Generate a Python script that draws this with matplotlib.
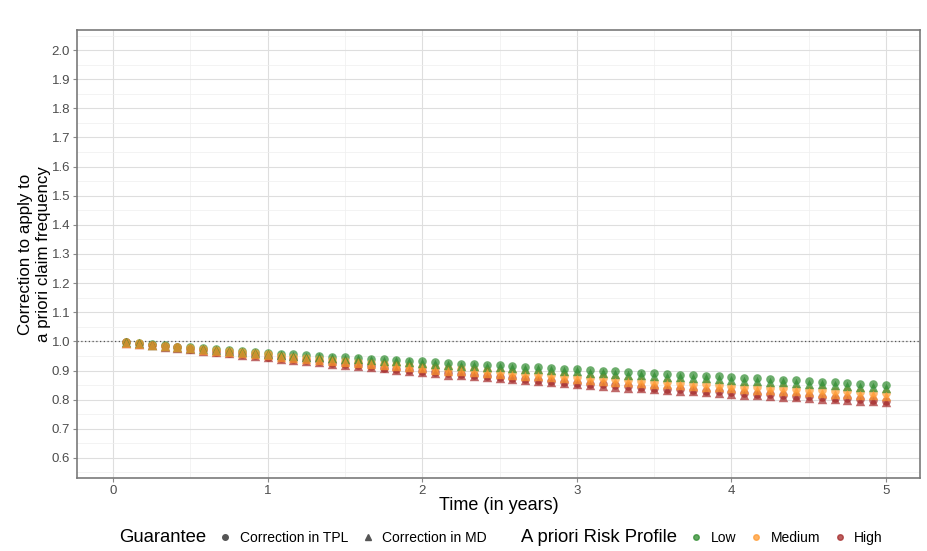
import numpy as np
import matplotlib
matplotlib.use("Agg")
import matplotlib.pyplot as plt
from matplotlib.lines import Line2D

plt.rcParams['font.family'] = ['Liberation Sans', 'DejaVu Sans']

# Monthly time grid (months 1..60 expressed in years)
months = np.arange(1, 61)
time_years = months / 12.0

# Correction factors, third-party liability (TPL)
tpl_low = [0.998, 0.994, 0.990, 0.986, 0.982, 0.979, 0.976, 0.973, 0.970, 0.967, 0.964, 0.961,
           0.958, 0.956, 0.953, 0.951, 0.948, 0.946, 0.943, 0.941, 0.938, 0.936, 0.934, 0.931,
           0.929, 0.927, 0.924, 0.922, 0.920, 0.918, 0.915, 0.913, 0.911, 0.909, 0.906, 0.904,
           0.902, 0.900, 0.897, 0.895, 0.893, 0.891, 0.888, 0.886, 0.884, 0.882, 0.880, 0.877,
           0.875, 0.873, 0.871, 0.869, 0.866, 0.864, 0.862, 0.860, 0.858, 0.855, 0.853, 0.851]
tpl_medium = [0.997, 0.993, 0.989, 0.985, 0.981, 0.977, 0.973, 0.970, 0.966, 0.962, 0.959, 0.955,
              0.951, 0.948, 0.944, 0.941, 0.937, 0.934, 0.930, 0.926, 0.923, 0.919, 0.916, 0.912,
              0.909, 0.906, 0.904, 0.901, 0.898, 0.895, 0.892, 0.889, 0.887, 0.884, 0.881, 0.878,
              0.875, 0.873, 0.870, 0.868, 0.865, 0.862, 0.860, 0.857, 0.855, 0.852, 0.850, 0.847,
              0.845, 0.843, 0.841, 0.839, 0.837, 0.834, 0.832, 0.830, 0.828, 0.826, 0.824, 0.822]
tpl_high = [0.997, 0.992, 0.988, 0.983, 0.979, 0.974, 0.970, 0.965, 0.961, 0.956, 0.952, 0.948,
            0.944, 0.939, 0.935, 0.931, 0.927, 0.922, 0.918, 0.914, 0.910, 0.905, 0.901, 0.897,
            0.894, 0.890, 0.887, 0.884, 0.880, 0.877, 0.874, 0.870, 0.867, 0.864, 0.860, 0.857,
            0.854, 0.852, 0.849, 0.846, 0.844, 0.841, 0.838, 0.836, 0.833, 0.830, 0.828, 0.825,
            0.823, 0.821, 0.818, 0.816, 0.814, 0.811, 0.809, 0.807, 0.804, 0.802, 0.800, 0.797]

# Correction factors, material damage (MD)
md_low = [0.997, 0.993, 0.989, 0.985, 0.981, 0.978, 0.973, 0.970, 0.967, 0.964, 0.961, 0.958,
          0.953, 0.951, 0.948, 0.946, 0.943, 0.941, 0.938, 0.936, 0.933, 0.931, 0.929, 0.926,
          0.922, 0.920, 0.917, 0.915, 0.913, 0.911, 0.908, 0.906, 0.904, 0.902, 0.899, 0.897,
          0.893, 0.891, 0.888, 0.886, 0.884, 0.882, 0.879, 0.877, 0.875, 0.873, 0.871, 0.868,
          0.865, 0.863, 0.861, 0.859, 0.856, 0.854, 0.852, 0.850, 0.848, 0.845, 0.843, 0.841]
md_medium = [0.996, 0.992, 0.988, 0.984, 0.980, 0.976, 0.970, 0.967, 0.963, 0.959, 0.956, 0.952,
             0.946, 0.943, 0.939, 0.936, 0.932, 0.929, 0.925, 0.921, 0.918, 0.914, 0.911, 0.907,
             0.902, 0.899, 0.897, 0.894, 0.891, 0.888, 0.885, 0.882, 0.880, 0.877, 0.874, 0.871,
             0.867, 0.865, 0.862, 0.860, 0.857, 0.854, 0.852, 0.849, 0.847, 0.844, 0.842, 0.839,
             0.836, 0.834, 0.832, 0.830, 0.828, 0.825, 0.823, 0.821, 0.819, 0.817, 0.815, 0.813]
md_high = [0.996, 0.991, 0.987, 0.982, 0.978, 0.973, 0.968, 0.963, 0.959, 0.954, 0.950, 0.946,
           0.941, 0.936, 0.932, 0.928, 0.924, 0.919, 0.915, 0.911, 0.907, 0.902, 0.898, 0.894,
           0.890, 0.886, 0.883, 0.880, 0.876, 0.873, 0.870, 0.866, 0.863, 0.860, 0.856, 0.853,
           0.849, 0.847, 0.844, 0.841, 0.839, 0.836, 0.833, 0.831, 0.828, 0.825, 0.823, 0.820,
           0.817, 0.815, 0.812, 0.810, 0.808, 0.805, 0.803, 0.801, 0.798, 0.796, 0.794, 0.791]

profiles = ["Low", "Medium", "High"]
profile_colors = {"Low": "#2e8b2e", "Medium": "#ff9a30", "High": "#a52a2a"}
tpl_series = {"Low": tpl_low, "Medium": tpl_medium, "High": tpl_high}
md_series = {"Low": md_low, "Medium": md_medium, "High": md_high}

fig = plt.figure(figsize=(9.27, 5.51), dpi=100, facecolor="white")
ax = fig.add_axes([0.0831, 0.1325, 0.9094, 0.8131])

# Layering: all TPL circles first, then MD triangles; within each, rows in
# alphabetical profile order (High, Low, Medium)
draw_order = ["High", "Low", "Medium"]
for p in draw_order:
    ax.scatter(time_years, tpl_series[p], s=38, marker="o", color=profile_colors[p],
               alpha=0.7, linewidths=0, zorder=3)
for p in draw_order:
    ax.scatter(time_years, md_series[p], s=46, marker="^", color=profile_colors[p],
               alpha=0.7, linewidths=0, zorder=3)

ax.axhline(1.0, color="#555555", linestyle=(0, (1, 2)), linewidth=0.9, zorder=2)

ax.set_xlim(-0.233, 5.22)
ax.set_ylim(0.531, 2.069)
ax.set_xticks(np.arange(0, 6, 1))
ax.set_xticks(np.arange(0.5, 5.0, 1), minor=True)
ax.set_yticks(np.round(np.arange(0.6, 2.01, 0.1), 1))
ax.set_yticks(np.round(np.arange(0.55, 2.06, 0.1), 2), minor=True)
ax.set_yticklabels([f"{v:.1f}" for v in np.arange(0.6, 2.01, 0.1)])

ax.grid(which="major", color="#dedede", linewidth=0.8, zorder=0)
ax.grid(which="minor", color="#efefef", linewidth=0.5, zorder=0)
ax.set_axisbelow(True)
for sp in ax.spines.values():
    sp.set_color("#7a7a7a")
    sp.set_linewidth(1.2)

ax.tick_params(which="major", length=3, color="#8a8a8a", labelcolor="#4d4d4d", labelsize=9.5, pad=2)
ax.tick_params(which="minor", length=0)

ax.set_xlabel("Time (in years)", fontsize=13, color="black", labelpad=0)
ax.set_ylabel("Correction to apply to\na priori claim frequency", fontsize=12.2,
              color="black", labelpad=0, linespacing=1.3)

# Legend: guarantee shapes and risk profile colours in a single row
blank = Line2D([], [], linestyle="none", marker=None)
handles = [
    blank,
    Line2D([], [], linestyle="none", marker="o", color="#555555", markersize=4),
    Line2D([], [], linestyle="none", marker="^", color="#555555", markersize=4),
    blank,
    Line2D([], [], linestyle="none", marker="o", color=profile_colors["Low"], alpha=0.75, markersize=4),
    Line2D([], [], linestyle="none", marker="o", color=profile_colors["Medium"], alpha=0.75, markersize=4),
    Line2D([], [], linestyle="none", marker="o", color=profile_colors["High"], alpha=0.75, markersize=4),
]
labels = ["Guarantee", "Correction in TPL", "Correction in MD", "A priori Risk Profile",
          "Low", "Medium", "High"]
leg = fig.legend(handles, labels, loc="center", bbox_to_anchor=(0.529, 0.025), ncol=7,
                 frameon=False, fontsize=10, handlelength=0.9, handletextpad=0.6,
                 columnspacing=0.95, borderaxespad=0)
for i, t in enumerate(leg.get_texts()):
    if i in (0, 3):
        t.set_fontsize(13.3)

fig.savefig("out.png", dpi=100, facecolor="white")
